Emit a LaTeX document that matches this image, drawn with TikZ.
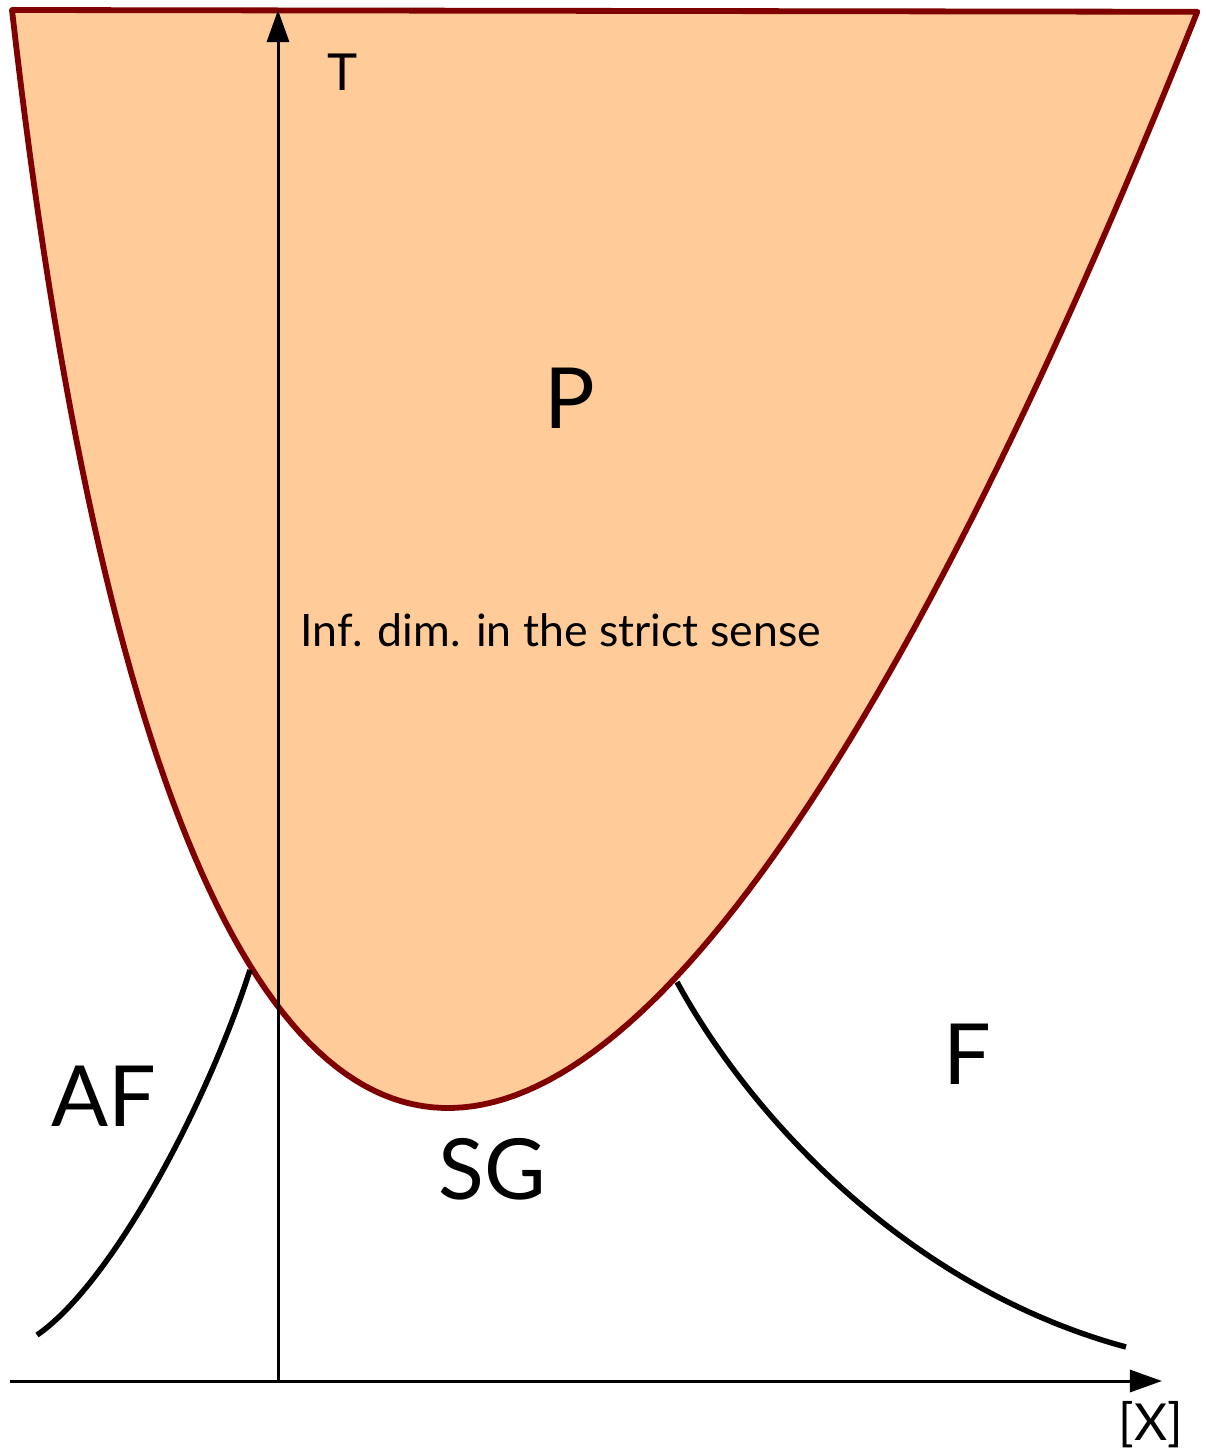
\documentclass[tikz,border=0pt]{standalone}
\usepackage{fontspec}
\setmainfont{Lato}
\usepackage{xcolor}
\usetikzlibrary{arrows.meta}

\definecolor{darkred}{RGB}{128,0,0}
\definecolor{peach}{RGB}{255,204,153}

\begin{document}
\begin{tikzpicture}[
    x=0.01cm, y=-0.01cm,
    phase/.style={draw=darkred, fill=peach, line width=0.058cm, line join=round},
    boundary/.style={draw=black, line width=0.055cm},
    axis/.style={line width=0.03cm, -{Triangle[length=0.32cm,width=0.22cm]}},
    biglabel/.style={font=\fontsize{24}{28}\selectfont, inner sep=0},
    axislabel/.style={font=\fontsize{14.5}{17}\selectfont, inner sep=0},
    smalllabel/.style={font=\fontsize{12.7}{15}\selectfont, inner sep=0}
]
\useasboundingbox (0,0) rectangle (1205,1454);

% Paramagnetic region
\draw[phase] plot[domain=-1:1, samples=120, variable=\t]
    ({448+608*\t+157*\t*\t-15*\t*\t*\t}, {1108-1098*\t*\t}) -- cycle;

% Phase boundaries
\draw[boundary] (37,1335) .. controls (110,1285) and (205,1110) .. (250,970);
\draw[boundary] (677,982) .. controls (755,1125) and (915,1290) .. (1126,1347);

% Axes
\coordinate (xstart) at (10,1381);
\coordinate (xend) at (1162,1381);
\coordinate (ybase) at (278,1381);
\coordinate (yend) at (278,10);
\draw[axis] (xstart) -- (xend);
\draw[axis] (ybase) -- (yend);

% Labels
\node[axislabel] (tlabel) at (343,72) {T};
\node[axislabel] (xlabel) at (1151,1425) {[X]};
\node[smalllabel, anchor=west] (inflabel) at (300,630) {Inf. dim. in the strict sense};
\node[biglabel] (plabel) at (570,398) {P};
\node[biglabel] (aflabel) at (104,1096) {AF};
\node[biglabel] (sglabel) at (492,1169) {SG};
\node[biglabel] (flabel) at (967,1054) {F};

\end{tikzpicture}
\end{document}
